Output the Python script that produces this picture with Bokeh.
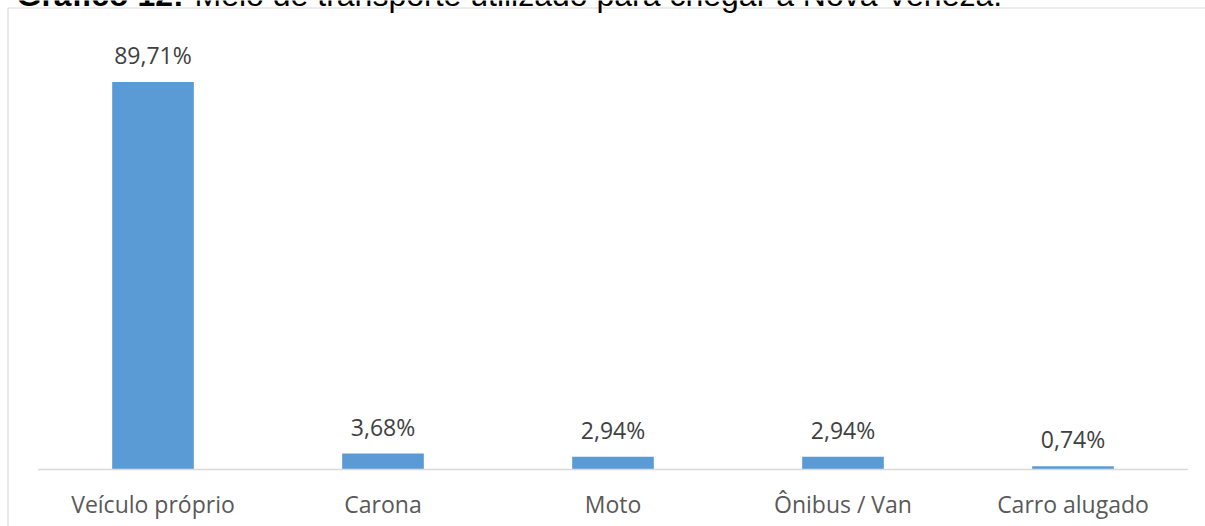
from bokeh.plotting import figure
from bokeh.models import Range1d, Label, ColumnDataSource, LabelSet
from bokeh.embed import file_html
from bokeh.resources import INLINE
from bokeh.core.properties import value

categories = ["Veículo próprio", "Carona", "Moto", "Ônibus / Van", "Carro alugado"]
values = [89.71, 3.68, 2.94, 2.94, 0.74]
value_labels = ["89,71%", "3,68%", "2,94%", "2,94%", "0,74%"]
title_bold = "Gráfico 12:"
title_rest = "Meio de transporte utilizado para chegar a Nova Veneza."

W, H = 1205, 526
# pixel geometry of the plotting area inside the canvas
PX_LEFT, PX_BAND = 37.5, 230.0        # left edge of first category band, band width (px)
PX_BASE, PX_PER_UNIT = 469.0, 4.32    # y pixel of 0 %, pixels per 1 %

idx = list(range(len(categories)))


def dx(px):
    return (px - PX_LEFT) / PX_BAND - 0.5


def dy(py):
    return (PX_BASE - py) / PX_PER_UNIT


src = ColumnDataSource(data=dict(x=idx, val=values, lab=value_labels, cat=categories,
                                 zero=[0] * len(idx)))

p = figure(x_range=Range1d(dx(0), dx(W)), y_range=Range1d(dy(H), dy(0)),
           width=W, height=H, output_backend="svg", toolbar_location=None,
           min_border_left=0, min_border_right=0, min_border_top=0, min_border_bottom=0)
p.outline_line_color = None
p.background_fill_color = "white"
p.border_fill_color = "white"
p.xgrid.visible = False
p.ygrid.visible = False
p.xaxis.visible = False
p.yaxis.visible = False

# chart-area border (top and left edges visible)
p.segment(x0=[dx(7.5), dx(7.5)], y0=[dy(7.5), dy(7.5)],
          x1=[dx(W + 10), dx(7.5)], y1=[dy(7.5), dy(H + 10)],
          line_color="#D9D9D9", line_width=1.2)

p.vbar(x="x", top="val", width=0.355, source=src, fill_color="#5B9BD5", line_color=None)

# category axis line
p.segment(x0=[-0.5], y0=[0], x1=[len(categories) - 0.5], y1=[0],
          line_color="#D9D9D9", line_width=1.6)

p.add_layout(LabelSet(x="x", y="val", text="lab", source=src, y_offset=18,
                      text_align="center", text_baseline="alphabetic",
                      text_font=value("Open Sans"), text_font_size="23px", text_color="#404040"))

p.add_layout(LabelSet(x="x", y="zero", text="cat", source=src, y_offset=-43,
                      text_align="center", text_baseline="alphabetic",
                      text_font=value("Open Sans"), text_font_size="23px", text_color="#595959"))

p.add_layout(Label(x=16, y=H + 6, x_units="screen", y_units="screen", text=title_bold,
                   text_font="Liberation Sans", text_font_style="bold", text_font_size="32px",
                   text_color="black", text_baseline="alphabetic"))
p.add_layout(Label(x=194, y=H + 6, x_units="screen", y_units="screen", text=title_rest,
                   text_font="Liberation Sans", text_font_size="32px",
                   text_color="black", text_baseline="alphabetic"))

open("out.html", "w").write(file_html(p, INLINE))
